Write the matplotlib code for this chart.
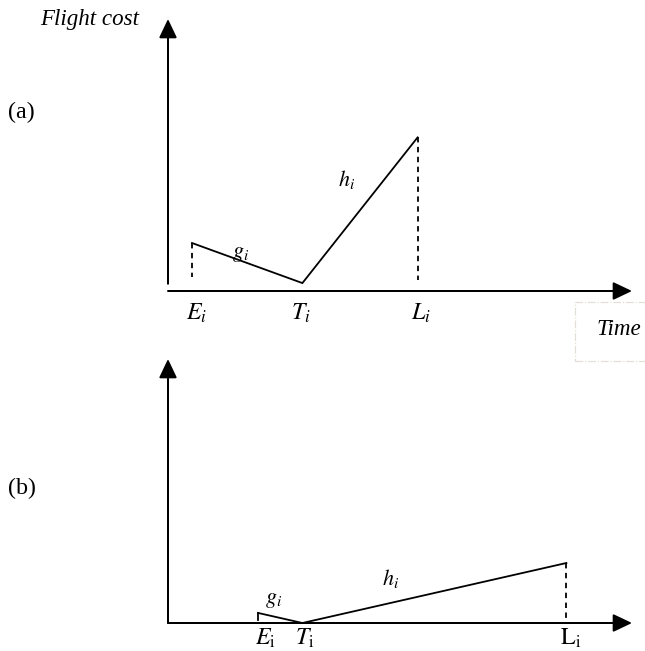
import matplotlib
matplotlib.use("Agg")
import matplotlib.pyplot as plt
from matplotlib.patches import Rectangle

plt.rcParams['font.family'] = ['Liberation Serif', 'DejaVu Serif']
plt.rcParams['mathtext.fontset'] = 'stix'

# panel (a): earliest, target, latest time and the cost at each
times_a = [1.0, 5.6, 10.4]
cost_a = [2.0, 0.33, 6.4]
labels_a = ['$E_i$', '$T_i$', '$L_i$']
# panel (b)
times_b = [3.75, 5.6, 16.6]
cost_b = [0.42, 0.0, 2.5]
labels_b = ['$E_\\mathrm{i}$', '$T_\\mathrm{i}$', '$\\mathrm{L_i}$']
piece_names = ['$g_i$', '$h_i$']

DPI = 72
W, H = 645, 651
S = 24.0  # px per unit
fig = plt.figure(figsize=(W / DPI, H / DPI), dpi=DPI)

# top axes: rows 0..340, origin at px (168, 291)
ax1 = fig.add_axes([0, 1 - 340 / H, 1, 340 / H])
ax1.set_xlim(-168 / S, (W - 168) / S)
ax1.set_ylim(-(340 - 291) / S, 291 / S)
# bottom axes: rows 340..651, origin at px (168, 623)
ax2 = fig.add_axes([0, 0, 1, 311 / H])
ax2.set_xlim(-168 / S, (W - 168) / S)
ax2.set_ylim(-(651 - 623) / S, (623 - 340) / S)
for ax in (ax1, ax2):
    ax.axis('off')

arrow = dict(arrowstyle='-|>,head_length=0.8,head_width=0.38', lw=2, color='black',
             mutation_scale=20, shrinkA=0, shrinkB=0)
xend = (632 - 168) / S


def draw_panel(ax, t, c, labels, ytop, ybot, dash_e, dash_l, lab_off, g_off, h_off, e_solid):
    ax.annotate('', xy=(xend, 0), xytext=(0, 0), arrowprops=arrow)
    ax.annotate('', xy=(0, ytop), xytext=(0, ybot), arrowprops=arrow)
    ax.plot(t, c, color='black', lw=1.8, solid_joinstyle='miter')
    ls = '-' if e_solid else (0, (3, 2.5))
    ax.plot([t[0], t[0]], [c[0], dash_e], color='black', lw=1.8, linestyle=ls)
    ax.plot([t[2], t[2]], [c[2], dash_l], color='black', lw=1.8, linestyle=(0, (3, 2.5)))
    for ti, lab, (dx, dy) in zip(t, labels, lab_off):
        ax.annotate(lab, xy=(ti, 0), xytext=(dx, dy), textcoords='offset points',
                    ha='left', va='baseline', fontsize=24)
    for k, (name, (dx, dy)) in enumerate(zip(piece_names, [g_off, h_off])):
        mx = (t[k] + t[k + 1]) / 2
        my = (c[k] + c[k + 1]) / 2
        ax.annotate(name, xy=(mx, my), xytext=(dx, dy), textcoords='offset points',
                    ha='left', va='baseline', fontsize=22)


draw_panel(ax1, times_a, cost_a, labels_a, (291 - 19) / S, 0.3, 0.58, 0.45,
           [(-6, -29), (-11, -29), (-7, -29)], (-15, 6), (-22, 24), False)
draw_panel(ax2, times_b, cost_b, labels_b, (623 - 359) / S, 0.0, 0.12, 0.0,
           [(-3, -22), (-7, -22), (-6, -22)], (-15, 15), (-52, 8), True)

ax1.annotate('Flight cost', xy=(0, (291 - 19) / S), xytext=(-29, -6), textcoords='offset points',
             ha='right', va='baseline', fontsize=23, fontstyle='italic')

# light dash-dot box around the time axis label
fig.add_artist(Rectangle((575 / W, 1 - 361 / H), 90 / W, 59 / H, transform=fig.transFigure,
                         fill=False, ec='#e2e0d6', lw=1.2, ls='-.'))
fig.text(597 / W, 1 - 335 / H, 'Time', fontsize=23, fontstyle='italic', va='baseline')

fig.text(8 / W, 1 - 112 / H, '(a)', fontsize=24, va='center')
fig.text(8 / W, 1 - 488 / H, '(b)', fontsize=24, va='center')

fig.savefig('out.png', dpi=DPI)
